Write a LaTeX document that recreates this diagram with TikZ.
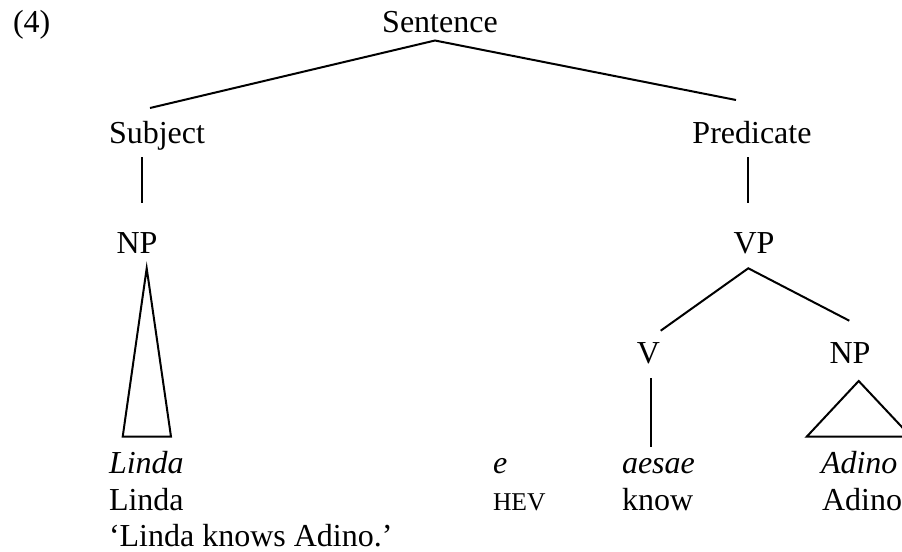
\documentclass[tikz,border=0pt]{standalone}
\usepackage{fontspec}
\setmainfont{Liberation Serif}
\begin{document}
\begin{tikzpicture}[x=0.5pt,y=-0.5pt,
  every node/.style={inner sep=0pt,outer sep=0pt,font=\fontsize{16}{19}\selectfont},
  lbl/.style={anchor=base},
  wrd/.style={anchor=base west},
  branch/.style={line width=1pt,line cap=butt},
  hevsc/.style={font=\fontsize{12.8}{15}\selectfont}]
\useasboundingbox (0,0) rectangle (902,552);
\clip (0,0) rectangle (902,552);

% example number
\node[wrd] (num) at (13,32) {(4)};

% category labels
\node[lbl] (sent) at (440,32) {Sentence};
\node[lbl] (subj) at (157,143) {Subject};
\node[lbl] (pred) at (752,143) {Predicate};
\node[lbl] (npl) at (137,253) {NP};
\node[lbl] (vp) at (754,253) {VP};
\node[lbl] (v) at (648.5,363) {V};
\node[lbl] (npr) at (850,363) {NP};

% words, glosses and translation
\node[wrd] (w1) at (109,473) {\itshape Linda};
\node[wrd] (w2) at (493,473) {\itshape e};
\node[wrd] (w3) at (622,473) {\itshape aesae};
\node[wrd] (w4) at (821,473) {\itshape Adino};
\node[wrd] (g1) at (109,510) {Linda};
\node[wrd,hevsc] (g2) at (493,510) {HEV};
\node[wrd] (g3) at (622,510) {know};
\node[wrd] (g4) at (822,510) {Adino};
\node[wrd] (tr) at (109,546) {‘Linda knows Adino.’};

% branch end points
\coordinate (sentB) at (435,40.5);
\coordinate (subjT) at (150,108);
\coordinate (predT) at (736,100);
\coordinate (subjB) at (142,157);
\coordinate (nplT) at (142,203);
\coordinate (predB) at (748,157);
\coordinate (vpT) at (748,203);
\coordinate (vpB) at (748.3,268.3);
\coordinate (vT) at (660.7,330.7);
\coordinate (nprT) at (849.3,320.7);
\coordinate (vB) at (650.7,378.3);
\coordinate (w3T) at (650.7,446.7);

% branches
\draw[branch] (subjT) -- (sentB) -- (predT);
\draw[branch] (subjB) -- (nplT);
\draw[branch] (predB) -- (vpT);
\draw[branch] (vT) -- (vpB) -- (nprT);
\draw[branch] (vB) -- (w3T);

% roofs over unanalysed constituents
\draw[branch,line join=miter] (146.7,268.3) -- (171,436.7) -- (122.7,436.7) -- cycle;
\draw[branch,line join=miter] (858.7,381) -- (911,436.7) -- (806.7,436.7) -- cycle;
\end{tikzpicture}
\end{document}
